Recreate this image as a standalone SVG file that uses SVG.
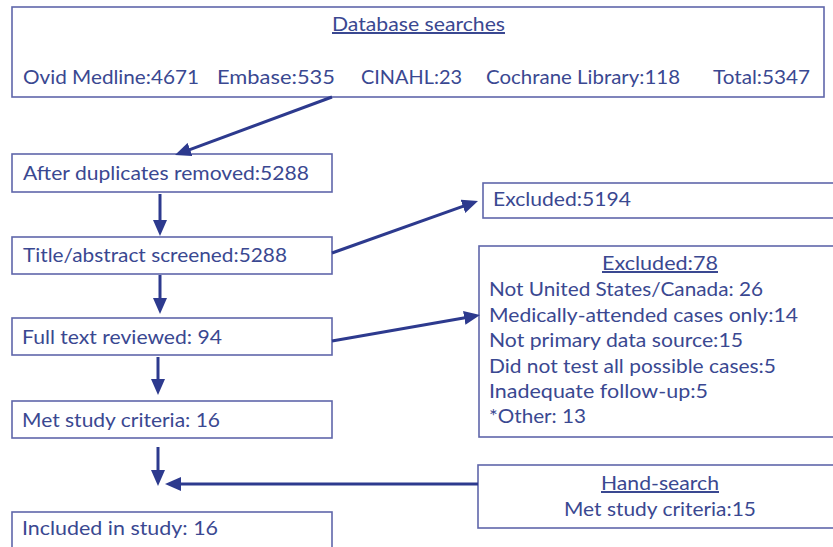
<svg xmlns="http://www.w3.org/2000/svg" width="833" height="547" viewBox="0 0 833 547">
<style>
.box{fill:#fff;stroke:#5f66aa;stroke-width:1.6}
.t{font-family:Lato,"Liberation Sans",Arial,sans-serif;font-size:20px;fill:#3a4891}
.u{text-decoration:underline}
.ln{stroke:#2d3a8e;stroke-width:3;fill:none}
</style>
<defs>
<marker id="ah" markerWidth="16" markerHeight="14" refX="11" refY="7" orient="auto" markerUnits="userSpaceOnUse">
<path d="M0,0 L16,7 L0,14 z" fill="#2d3a8e"/>
</marker>
</defs>
<rect width="833" height="547" fill="#fff"/>
<g id="db">
<rect class="box" x="12" y="7" width="812" height="90"/>
<text class="t u" x="332" y="31" textLength="173" lengthAdjust="spacingAndGlyphs">Database searches</text>
<text class="t" x="23" y="84" textLength="176" lengthAdjust="spacingAndGlyphs">Ovid Medline:4671</text>
<text class="t" x="217" y="84" textLength="118" lengthAdjust="spacingAndGlyphs">Embase:535</text>
<text class="t" x="361" y="84" textLength="101" lengthAdjust="spacingAndGlyphs">CINAHL:23</text>
<text class="t" x="486" y="84" textLength="194" lengthAdjust="spacingAndGlyphs">Cochrane Library:118</text>
<text class="t" x="713" y="84" textLength="97" lengthAdjust="spacingAndGlyphs">Total:5347</text>
</g>
<g id="dup">
<rect class="box" x="12" y="154" width="320" height="38"/>
<text class="t" x="23" y="180" textLength="286" lengthAdjust="spacingAndGlyphs">After duplicates removed:5288</text>
</g>
<g id="title">
<rect class="box" x="12" y="237" width="320" height="37"/>
<text class="t" x="23" y="262" textLength="264" lengthAdjust="spacingAndGlyphs">Title/abstract screened:5288</text>
</g>
<g id="full">
<rect class="box" x="12" y="318" width="320" height="37"/>
<text class="t" x="22" y="344" textLength="200" lengthAdjust="spacingAndGlyphs">Full text reviewed: 94</text>
</g>
<g id="met">
<rect class="box" x="12" y="401" width="320" height="37"/>
<text class="t" x="22" y="427" textLength="198" lengthAdjust="spacingAndGlyphs">Met study criteria: 16</text>
</g>
<g id="incl">
<rect class="box" x="12" y="512" width="320" height="42"/>
<text class="t" x="22" y="535" textLength="196" lengthAdjust="spacingAndGlyphs">Included in study: 16</text>
</g>
<g id="ex1">
<rect class="box" x="483" y="183" width="360" height="35"/>
<text class="t" x="493" y="206" textLength="138" lengthAdjust="spacingAndGlyphs">Excluded:5194</text>
</g>
<g id="ex2">
<rect class="box" x="479" y="246" width="364" height="191"/>
<text class="t u" x="602" y="270" textLength="116" lengthAdjust="spacingAndGlyphs">Excluded:78</text>
<text class="t" x="489" y="296" textLength="274" lengthAdjust="spacingAndGlyphs">Not United States/Canada: 26</text>
<text class="t" x="489" y="322" textLength="309" lengthAdjust="spacingAndGlyphs">Medically-attended cases only:14</text>
<text class="t" x="489" y="347" textLength="254" lengthAdjust="spacingAndGlyphs">Not primary data source:15</text>
<text class="t" x="489" y="373" textLength="287" lengthAdjust="spacingAndGlyphs">Did not test all possible cases:5</text>
<text class="t" x="489" y="398" textLength="219" lengthAdjust="spacingAndGlyphs">Inadequate follow-up:5</text>
<text class="t" x="489" y="423" textLength="97" lengthAdjust="spacingAndGlyphs">*Other: 13</text>
</g>
<g id="hand">
<rect class="box" x="478" y="465" width="365" height="63"/>
<text class="t u" x="601" y="490" textLength="118" lengthAdjust="spacingAndGlyphs">Hand-search</text>
<text class="t" x="564" y="516" textLength="192" lengthAdjust="spacingAndGlyphs">Met study criteria:15</text>
</g>
<g id="connectors">
<line class="ln" x1="332" y1="97" x2="179.7" y2="153.3" marker-end="url(#ah)"/>
<line class="ln" x1="160" y1="194" x2="160" y2="231" marker-end="url(#ah)"/>
<line class="ln" x1="160" y1="275" x2="160" y2="309" marker-end="url(#ah)"/>
<line class="ln" x1="158" y1="357" x2="158" y2="390" marker-end="url(#ah)"/>
<line class="ln" x1="158" y1="447" x2="158" y2="481" marker-end="url(#ah)"/>
<line class="ln" x1="332" y1="253" x2="473.3" y2="202.7" marker-end="url(#ah)"/>
<line class="ln" x1="332" y1="341" x2="475.1" y2="315.9" marker-end="url(#ah)"/>
<line class="ln" x1="478" y1="484" x2="170" y2="484" marker-end="url(#ah)"/>
</g>
</svg>
